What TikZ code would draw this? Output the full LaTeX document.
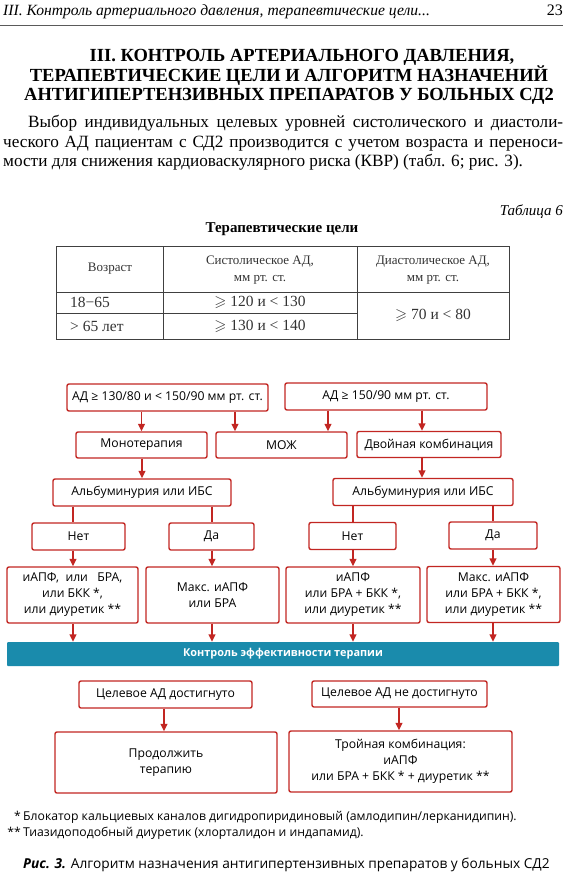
\documentclass[tikz,border=0pt]{standalone}
\usepackage{fontspec}
\usepackage{amssymb}
\setmainfont{Liberation Serif}
\newfontfamily\flowfont{Open Sans}
\usetikzlibrary{arrows.meta}
\definecolor{boxred}{RGB}{194,38,34}
\definecolor{barteal}{RGB}{26,139,172}
\definecolor{rulegray}{RGB}{90,90,90}

\begin{document}
\begin{tikzpicture}[x=1pt,y=-1pt,inner sep=0pt,
  fbox/.style={draw=boxred,line width=1.4pt,rounded corners=2pt,fill=white,
    align=center,font=\flowfont\fontsize{12.2}{16}\selectfont},
  farrow/.style={boxred,line width=1.4pt,-{Triangle[width=7pt,length=7.5pt]}},
  fline/.style={boxred,line width=1.4pt},
  tabtext/.style={font=\fontsize{13}{16.5}\selectfont,align=center,text=black!80}]
  \useasboundingbox (0,0) rectangle (576,876);

  % page head
  \node[anchor=base west,font=\fontsize{15.6}{18}\selectfont\itshape] (head) at (3,15)
    {III. Контроль артериального давления, терапевтические цели...};
  \node[anchor=base east,font=\fontsize{16}{18}\selectfont] (pagenum) at (563,15) {23};
  \draw[rulegray,line width=1pt] (0,25) -- (563,25);

  % section title and text
  \node[anchor=base,font=\fontsize{18.5}{21}\selectfont\bfseries] (title1) at (302,61)
    {III. КОНТРОЛЬ АРТЕРИАЛЬНОГО ДАВЛЕНИЯ,};
  \node[anchor=base,font=\fontsize{18.5}{21}\selectfont\bfseries] (title2) at (289,81)
    {ТЕРАПЕВТИЧЕСКИЕ ЦЕЛИ И АЛГОРИТМ НАЗНАЧЕНИЙ};
  \node[anchor=base,font=\fontsize{18.5}{21}\selectfont\bfseries] (title3) at (289,100)
    {АНТИГИПЕРТЕНЗИВНЫХ ПРЕПАРАТОВ У БОЛЬНЫХ СД2};
  \node[anchor=base west,font=\fontsize{17.2}{20}\selectfont] (par1) at (28,127)
    {\makebox[535pt][s]{Выбор индивидуальных целевых уровней систолического и диастоли-}};
  \node[anchor=base west,font=\fontsize{17.2}{20}\selectfont] (par2) at (3,147)
    {\makebox[560pt][s]{ческого АД пациентам с СД2 производится с учетом возраста и переноси-}};
  \node[anchor=base west,font=\fontsize{17.2}{20}\selectfont] (par3) at (3,166)
    {мости для снижения кардиоваскулярного риска (КВР) (табл. 6; рис. 3).};

  % table 6
  \node[anchor=base east,font=\fontsize{15}{17}\selectfont\itshape] (tabno) at (563,215) {Таблица 6};
  \node[anchor=base,font=\fontsize{15}{17}\selectfont\bfseries] (tabtitle) at (282,232) {Терапевтические цели};
  \draw[black!75,line width=0.7pt] (56,246) rectangle (509,339);
  \draw[black!75,line width=0.7pt] (163,246) -- (163,339) (357,246) -- (357,339)
    (56,292) -- (509,292) (56,313) -- (357,313);
  \node[tabtext] (hage) at (110,269) {Возраст};
  \node[tabtext] (hsys) at (260,270) {Систолическое АД,\\мм рт. ст.};
  \node[tabtext] (hdia) at (433,270) {Диастолическое АД,\\мм рт. ст.};
  \node[tabtext,anchor=west,font=\fontsize{15.5}{18}\selectfont] (age1) at (70,302) {18−65};
  \node[tabtext,anchor=west,font=\fontsize{15.5}{18}\selectfont] (age2) at (70,326) {> 65 лет};
  \node[tabtext,font=\fontsize{15.5}{18}\selectfont] (sys1) at (260,302) {$\geqslant$ 120 и < 130};
  \node[tabtext,font=\fontsize{15.5}{18}\selectfont] (sys2) at (260,326) {$\geqslant$ 130 и < 140};
  \node[tabtext,font=\fontsize{15.5}{18}\selectfont] (dia) at (433,315) {$\geqslant$ 70 и < 80};

  % figure 3: flow chart
  \node[fbox,minimum width=201pt,minimum height=27pt] (ad1) at (167.5,397.5) {АД ≥ 130/80 и < 150/90 мм рт. ст.};
  \node[fbox,minimum width=202pt,minimum height=27pt] (ad2) at (386,396.5) {АД ≥ 150/90 мм рт. ст.};
  \node[fbox,minimum width=131pt,minimum height=26pt] (mono) at (141.5,445) {Монотерапия};
  \node[fbox,minimum width=131pt,minimum height=26pt] (moz) at (281.5,445) {МОЖ};
  \node[fbox,minimum width=144pt,minimum height=26pt] (dvoy) at (429,444.5) {Двойная комбинация};
  \node[fbox,minimum width=178pt,minimum height=27pt] (alb1) at (142,492.5) {Альбуминурия или ИБС};
  \node[fbox,minimum width=180pt,minimum height=27pt] (alb2) at (423,492) {Альбуминурия или ИБС};
  \node[fbox,minimum width=93pt,minimum height=27pt] (net1) at (78.5,536.5) {Нет};
  \node[fbox,minimum width=85pt,minimum height=27pt] (da1) at (211.5,536.5) {Да};
  \node[fbox,minimum width=87pt,minimum height=27pt] (net2) at (352.5,536) {Нет};
  \node[fbox,minimum width=88pt,minimum height=27pt] (da2) at (493,535.5) {Да};
  \node[fbox,minimum width=131pt,minimum height=56pt] (box1) at (72.5,595) {иАПФ,\ \ или\ \ \ БРА,\\или БКК *,\\или диуретик **};
  \node[fbox,minimum width=133pt,minimum height=56pt] (box2) at (212.5,595) {Макс. иАПФ\\или БРА};
  \node[fbox,minimum width=134pt,minimum height=56pt] (box3) at (353,595) {иАПФ\\или БРА + БКК *,\\или диуретик **};
  \node[fbox,minimum width=133pt,minimum height=56pt] (box4) at (493.5,594.5) {Макс. иАПФ\\или БРА + БКК *,\\или диуретик **};
  \node[fill=barteal,rounded corners=1pt,minimum width=552pt,minimum height=24pt,text=white,
    font=\flowfont\fontsize{10.9}{14}\selectfont\bfseries] (bar) at (283,654) {Контроль эффективности терапии};
  \node[fbox,minimum width=173pt,minimum height=27pt] (ok) at (165.5,694.5) {Целевое АД достигнуто};
  \node[fbox,minimum width=175pt,minimum height=26pt] (nok) at (399.5,694) {Целевое АД не достигнуто};
  \node[fbox,minimum width=222pt,minimum height=61pt] (cont) at (166,762.5) {Продолжить\\терапию};
  \node[fbox,minimum width=223pt,minimum height=61pt] (triple) at (400.5,761.5)
    {Тройная комбинация:\\иАПФ\\или БРА + БКК * + диуретик **};

  \coordinate (xmoz1) at (235,0);
  \coordinate (xmoz2) at (328,0);
  \coordinate (xdvoy) at (422,0);
  \coordinate (xcont) at (164,0);
  \coordinate (xtriple) at (399,0);
  \draw[farrow] (ad1.south -| mono.north) -- (mono.north);
  \draw[farrow] (ad1.south -| xmoz1) -- (moz.north -| xmoz1);
  \draw[farrow] (ad2.south -| xmoz2) -- (moz.north -| xmoz2);
  \draw[farrow] (ad2.south -| xdvoy) -- (dvoy.north -| xdvoy);
  \draw[farrow] (mono.south -| alb1.north) -- (alb1.north);
  \draw[farrow] (dvoy.south -| xdvoy) -- (alb2.north -| xdvoy);
  \foreach \lane/\xpos/\alb/\ans/\drug in {l1/73/alb1/net1/box1, l2/212/alb1/da1/box2,
      l3/353/alb2/net2/box3, l4/493/alb2/da2/box4}{
    \coordinate (\lane) at (\xpos,0);
    \draw[fline] (\alb.south -| \lane) -- (\ans.north -| \lane);
    \draw[farrow] (\ans.south -| \lane) -- (\drug.north -| \lane);
    \draw[farrow] (\drug.south -| \lane) -- (bar.north -| \lane);
  }
  \draw[farrow] (ok.south -| xcont) -- (cont.north -| xcont);
  \draw[farrow] (nok.south -| xtriple) -- (triple.north -| xtriple);

  % notes and caption
  \node[anchor=base east,font=\flowfont\fontsize{12.2}{14}\selectfont] (star1) at (21,820) {*};
  \node[anchor=base west,font=\flowfont\fontsize{12.2}{14}\selectfont] (note1) at (23,820)
    {Блокатор кальциевых каналов дигидропиридиновый (амлодипин/лерканидипин).};
  \node[anchor=base east,font=\flowfont\fontsize{12.2}{14}\selectfont] (star2) at (21,836) {**};
  \node[anchor=base west,font=\flowfont\fontsize{12.2}{14}\selectfont] (note2) at (23,836)
    {Тиазидоподобный диуретик (хлорталидон и индапамид).};
  \node[anchor=base west,font=\flowfont\fontsize{13.7}{15}\selectfont] (caption) at (23,868)
    {\textbf{\textit{Рис. 3.}} Алгоритм назначения антигипертензивных препаратов у больных СД2};
\end{tikzpicture}
\end{document}
